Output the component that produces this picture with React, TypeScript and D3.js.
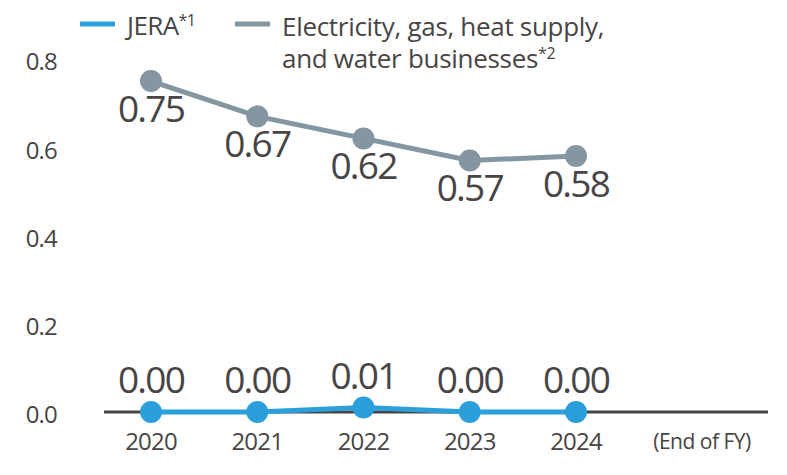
import React from 'react';
import * as d3 from 'd3';

const years = ['2020', '2021', '2022', '2023', '2024'];
const jeraValues = [0.0, 0.0, 0.01, 0.0, 0.0];
const industryValues = [0.75, 0.67, 0.62, 0.57, 0.58];
const yTicks = [0, 0.2, 0.4, 0.6, 0.8];

const W = 787;
const H = 475;
const BLUE = '#2a9fdc';
const GRAY = '#8396a2';
const TEXT = '#474545';
const FONT = '"Open Sans", "Noto Sans", sans-serif';

const x = d3.scalePoint<string>().domain(years).range([151, 576]);
const y = d3.scaleLinear().domain([0, 0.8]).range([412, 59]);

const line = d3
  .line<number>()
  .x((_, i) => x(years[i]) as number)
  .y((d) => y(d));

export default function App() {
  return (
    <svg
      width={W}
      height={H}
      style={{ position: 'absolute', left: 0, top: 0, background: '#fff' }}
      fontFamily={FONT}
    >
      {/* legend */}
      <line x1={80} x2={115} y1={24} y2={24} stroke={BLUE} strokeWidth={5} />
      <text x={127} y={35} fontSize={26} fill={TEXT} letterSpacing={-0.6}>
        JERA<tspan fontSize={16} dy={-9}>*1</tspan>
      </text>
      <line x1={235} x2={270} y1={24} y2={24} stroke={GRAY} strokeWidth={5} />
      <text x={282} y={36} fontSize={26} fill={TEXT} letterSpacing={-0.3}>
        Electricity, gas, heat supply,
      </text>
      <text x={282} y={68} fontSize={26} fill={TEXT} letterSpacing={-0.3}>
        and water businesses<tspan fontSize={16} dy={-9}>*2</tspan>
      </text>

      {/* y tick labels */}
      {yTicks.map((t) => (
        <text
          key={t}
          x={57}
          y={y(t) + 3}
          dy="0.35em"
          textAnchor="end"
          fontSize={24}
          fill={TEXT}
          letterSpacing={-0.8}
        >
          {t.toFixed(1)}
        </text>
      ))}

      {/* baseline */}
      <line x1={104} x2={768} y1={y(0)} y2={y(0)} stroke="#454545" strokeWidth={3} />

      {/* x labels */}
      {years.map((yr) => (
        <text
          key={yr}
          x={x(yr)}
          y={450}
          textAnchor="middle"
          fontSize={24}
          fill={TEXT}
          letterSpacing={-0.8}
        >
          {yr}
        </text>
      ))}
      <text x={702} y={449} textAnchor="middle" fontSize={21} fill={TEXT} letterSpacing={-0.5}>
        (End of FY)
      </text>

      {/* industry series */}
      <path d={line(industryValues) ?? ''} fill="none" stroke={GRAY} strokeWidth={5} />
      {industryValues.map((v, i) => (
        <g key={i}>
          <circle cx={x(years[i])} cy={y(v)} r={11} fill={GRAY} />
          <text
            x={x(years[i])}
            y={y(v) + 41}
            textAnchor="middle"
            fontSize={37}
            fill={TEXT}
            letterSpacing={-1.8}
          >
            {v.toFixed(2)}
          </text>
        </g>
      ))}

      {/* JERA series */}
      <path d={line(jeraValues) ?? ''} fill="none" stroke={BLUE} strokeWidth={5} />
      {jeraValues.map((v, i) => (
        <g key={i}>
          <circle cx={x(years[i])} cy={y(v)} r={11} fill={BLUE} />
          <text
            x={x(years[i])}
            y={y(v) - 19}
            textAnchor="middle"
            fontSize={37}
            fill={TEXT}
            letterSpacing={-1.8}
          >
            {v.toFixed(2)}
          </text>
        </g>
      ))}
    </svg>
  );
}
